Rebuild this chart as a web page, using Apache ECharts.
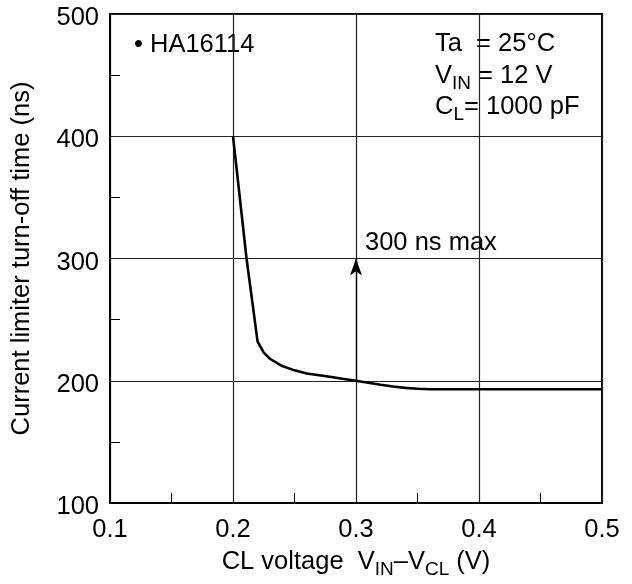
<!DOCTYPE html>
<html><head><meta charset="utf-8">
<script src="https://cdn.jsdelivr.net/npm/echarts@6/dist/echarts.min.js"></script>
<style>html,body{margin:0;padding:0;background:#fff}#c{width:632px;height:584px}</style>
</head><body><div id="c"></div>
<script>
const xTicks = [0.1, 0.2, 0.3, 0.4, 0.5];
const yTicks = [100, 200, 300, 400, 500];
const cl_voltage = [0.2, 0.211, 0.22, 0.225, 0.23, 0.24, 0.25, 0.26, 0.27, 0.28, 0.29, 0.3, 0.31, 0.32, 0.33, 0.34, 0.35, 0.36, 0.4, 0.45, 0.5];
const turn_off_ns = [400, 300, 232, 223, 218, 212, 208.5, 206, 204.5, 203, 201.5, 200, 198.3, 196.7, 195.3, 194.2, 193.4, 193, 193, 193, 193];
const limitX = 0.3, limitFrom = 200, limitTo = 300;

const F = 'Liberation Sans, Arial, sans-serif';
const FS = 25.5;
const chart = echarts.init(document.getElementById('c'));
const sub = {fontFamily: F, fontSize: 19, lineHeight: 19, verticalAlign: 'bottom', color: '#000'};
const main = {fontFamily: F, fontSize: FS, lineHeight: 35, color: '#000'};

chart.setOption({
  animation: false,
  grid: {left: 110, right: 30, top: 14, bottom: 79, show: true, borderColor: '#000', borderWidth: 2},
  xAxis: {
    type: 'value', min: xTicks[0], max: xTicks[xTicks.length - 1], interval: 0.1,
    axisLine: {lineStyle: {color: '#000', width: 2}},
    axisTick: {show: false},
    minorTick: {show: true, splitNumber: 2, length: -10, lineStyle: {color: '#000', width: 1}},
    splitLine: {show: true, lineStyle: {color: '#222', width: 1.2}},
    axisLabel: {fontFamily: F, fontSize: FS, color: '#000', margin: 14, formatter: v => v.toFixed(1)},
    name: '{m|CL voltage  V}{s|IN}{m|–V}{s|CL}{m| (V)}',
    nameLocation: 'middle', nameGap: 41,
    nameTextStyle: {rich: {m: main, s: sub}}
  },
  yAxis: {
    type: 'value', min: yTicks[0], max: yTicks[yTicks.length - 1], interval: 100,
    axisLine: {lineStyle: {color: '#000', width: 2}},
    axisTick: {show: false},
    minorTick: {show: true, splitNumber: 2, length: -10, lineStyle: {color: '#000', width: 1}},
    splitLine: {show: true, lineStyle: {color: '#222', width: 1.2}},
    axisLabel: {fontFamily: F, fontSize: FS, color: '#000', margin: 11, verticalAlign: 'top', lineHeight: 8},
    name: 'Current limiter turn-off time (ns)',
    nameLocation: 'middle', nameGap: 75,
    nameTextStyle: {fontFamily: F, fontSize: FS, color: '#000'}
  },
  series: [{
    type: 'line', showSymbol: false, symbol: 'none',
    data: cl_voltage.map((x, i) => [x, turn_off_ns[i]]),
    lineStyle: {color: '#000', width: 2.6},
    markLine: {
      silent: true, symbol: ['none', 'arrow'], symbolSize: [9, 17],
      lineStyle: {color: '#000', width: 1.3, type: 'solid'},
      label: {show: false},
      data: [[{coord: [limitX, limitFrom]}, {coord: [limitX, limitTo]}]]
    },
    markPoint: {
      symbol: 'circle', symbolSize: 0,
      label: {show: true, position: [9, -16], align: 'left', verticalAlign: 'middle',
        fontFamily: F, fontSize: FS, color: '#000', formatter: '300 ns max'},
      data: [{coord: [limitX, limitTo]}]
    }
  }],
  graphic: [
    {type: 'text', x: 134, y: 45, style: {text: '• HA16114', font: FS + 'px ' + F, fill: '#000', verticalAlign: 'middle'}},
    {type: 'text', x: 435, y: 44, style: {text: '{m|Ta  = 25°C}', rich: {m: main}, verticalAlign: 'middle'}},
    {type: 'text', x: 435, y: 76, style: {text: '{m|V}{s|IN}{m| = 12 V}', rich: {m: main, s: sub}, verticalAlign: 'middle'}},
    {type: 'text', x: 435, y: 107, style: {text: '{m|C}{s|L}{m|= 1000 pF}', rich: {m: main, s: sub}, verticalAlign: 'middle'}}
  ]
});
</script></body></html>
